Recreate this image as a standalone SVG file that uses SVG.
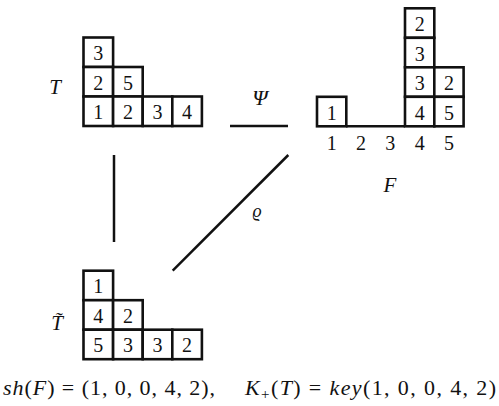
<svg xmlns="http://www.w3.org/2000/svg" width="499" height="406" viewBox="0 0 499 406">
<style>
.c{fill:#fff;stroke:#111;stroke-width:2.6}
.n{font-family:'Liberation Serif','Times New Roman',serif;font-size:20px;text-anchor:middle;fill:#111}
.lbl{font-family:'Liberation Serif','Times New Roman',serif;font-size:21px;font-style:italic;text-anchor:middle;fill:#111}
.e{stroke:#111;stroke-width:2.5;fill:none}
.eq{font-family:'Liberation Serif','Times New Roman',serif;font-size:22px;fill:#111}
.it{font-style:italic}
</style>
<rect width="499" height="406" fill="#fff"/>
<g id="connectors">
<line class="e" x1="230" y1="126" x2="288" y2="126"/>
<line class="e" x1="114" y1="155" x2="114" y2="242"/>
<line class="e" x1="288.3" y1="155" x2="172.7" y2="270.7"/>
<text class="lbl" x="260" y="105" style="font-size:22px">Ψ</text>
<text class="lbl" x="257" y="217" style="font-size:18px">ϱ</text>
</g>
<g id="T">
<text class="lbl" x="55" y="94">T</text>
<rect class="c" x="83.5" y="37.5" width="29.6" height="29.5"/>
<rect class="c" x="83.5" y="67" width="29.6" height="29.5"/>
<rect class="c" x="113.1" y="67" width="29.6" height="29.5"/>
<rect class="c" x="83.5" y="96.5" width="29.6" height="29.5"/>
<rect class="c" x="113.1" y="96.5" width="29.6" height="29.5"/>
<rect class="c" x="142.7" y="96.5" width="29.6" height="29.5"/>
<rect class="c" x="172.3" y="96.5" width="29.6" height="29.5"/>
<text class="n" x="98.3" y="60">3</text>
<text class="n" x="98.3" y="89.5">2</text>
<text class="n" x="127.9" y="89.5">5</text>
<text class="n" x="98.3" y="119">1</text>
<text class="n" x="127.9" y="119">2</text>
<text class="n" x="157.5" y="119">3</text>
<text class="n" x="187.1" y="119">4</text>
</g>
<g id="Ttilde">
<text class="lbl" x="57" y="330">T&#x303;</text>
<rect class="c" x="83.5" y="270.7" width="29.6" height="29.5"/>
<rect class="c" x="83.5" y="300.2" width="29.6" height="29.5"/>
<rect class="c" x="113.1" y="300.2" width="29.6" height="29.5"/>
<rect class="c" x="83.5" y="329.7" width="29.6" height="29.5"/>
<rect class="c" x="113.1" y="329.7" width="29.6" height="29.5"/>
<rect class="c" x="142.7" y="329.7" width="29.6" height="29.5"/>
<rect class="c" x="172.3" y="329.7" width="29.6" height="29.5"/>
<text class="n" x="98.3" y="293.2">1</text>
<text class="n" x="98.3" y="322.7">4</text>
<text class="n" x="127.9" y="322.7">2</text>
<text class="n" x="98.3" y="352.2">5</text>
<text class="n" x="127.9" y="352.2">3</text>
<text class="n" x="157.5" y="352.2">3</text>
<text class="n" x="187.1" y="352.2">2</text>
</g>
<g id="F">
<line class="e" x1="346" y1="126.3" x2="405" y2="126.3" style="stroke-width:2.6"/>
<rect class="c" x="317" y="96.8" width="29.3" height="29.5"/>
<rect class="c" x="405" y="8.3" width="29.3" height="29.5"/>
<rect class="c" x="405" y="37.8" width="29.3" height="29.5"/>
<rect class="c" x="405" y="67.3" width="29.3" height="29.5"/>
<rect class="c" x="405" y="96.8" width="29.3" height="29.5"/>
<rect class="c" x="434.3" y="67.3" width="29.3" height="29.5"/>
<rect class="c" x="434.3" y="96.8" width="29.3" height="29.5"/>
<text class="n" x="331.7" y="119.5">1</text>
<text class="n" x="419.7" y="31">2</text>
<text class="n" x="419.7" y="60.5">3</text>
<text class="n" x="419.7" y="90">3</text>
<text class="n" x="419.7" y="119.5">4</text>
<text class="n" x="449" y="90">2</text>
<text class="n" x="449" y="119.5">5</text>
<text class="n" x="331.7" y="150">1</text>
<text class="n" x="361" y="150">2</text>
<text class="n" x="390.3" y="150">3</text>
<text class="n" x="419.7" y="150">4</text>
<text class="n" x="449" y="150">5</text>
<text class="lbl" x="390" y="192">F</text>
</g>
<g id="caption">
<text class="eq" x="3" y="395" textLength="212" lengthAdjust="spacing"><tspan class="it">sh</tspan>(<tspan class="it">F</tspan>) = (1, 0, 0, 4, 2),</text>
<text class="eq" x="245" y="395" textLength="251" lengthAdjust="spacing"><tspan class="it">K</tspan><tspan font-size="15" dy="4">+</tspan><tspan dy="-4">(</tspan><tspan class="it">T</tspan>) = <tspan class="it">key</tspan>(1, 0, 0, 4, 2)</text>
</g>
</svg>
